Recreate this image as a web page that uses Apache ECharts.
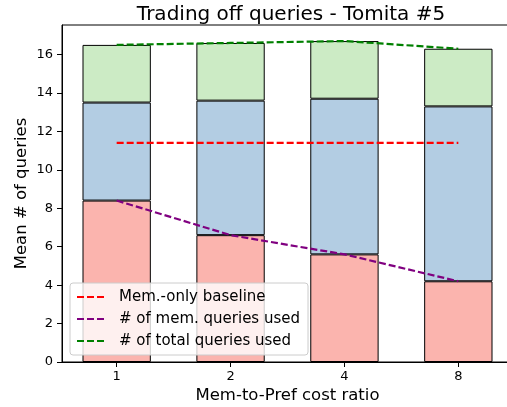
<!DOCTYPE html>
<html><head><meta charset="utf-8">
<script src="https://cdn.jsdelivr.net/npm/echarts@6/dist/echarts.min.js"></script>
<style>html,body{margin:0;padding:0;background:#fff}#c{width:507px;height:407px}</style>
</head><body><div id="c"></div>
<script>
const categories = ['1', '2', '4', '8'];
const memQueries = [8.4, 6.6, 5.6, 4.2];
const prefQueries = [5.1, 7.0, 8.1, 9.1];
const extraQueries = [3.0, 3.0, 3.0, 3.0];
const baseline = [11.4, 11.4, 11.4, 11.4];
const memUsed = [8.4, 6.6, 5.6, 4.2];
const totalUsed = [16.5, 16.6, 16.7, 16.3];
const yTicks = [0, 2, 4, 6, 8, 10, 12, 14, 16];

const pts = arr => arr.map((v, i) => [i, v]);
const font = 'DejaVu Sans';
const dash = [7, 3];
const barStyle = c => ({ color: c, borderColor: '#000', borderWidth: 1 });
const icon = 'path://M0,0h8v2h-8zM11,0h8v2h-8zM22,0h8v2h-8z';
const YMAX = 17.535;
const GL = 62, GW = 451, XMIN = -0.48, XMAX = 3.48;
const unit = GW / (XMAX - XMIN);

const chart = echarts.init(document.getElementById('c'));
chart.setOption({
  animation: false,
  textStyle: { fontFamily: font },
  title: {
    text: 'Trading off queries - Tomita #5',
    left: 286, top: 0, textAlign: 'center',
    textStyle: { fontFamily: font, fontSize: 20, fontWeight: 'normal', color: '#000' }
  },
  grid: [
    { left: GL, top: 25, width: GW, height: 337, show: true, borderColor: '#000', borderWidth: 1, backgroundColor: 'transparent', containLabel: false, outerBoundsMode: 'none' },
    { left: GL + (-0.5 - XMIN) * unit, top: 25, width: 4 * unit, height: 337, show: false, containLabel: false, outerBoundsMode: 'none' }
  ],
  xAxis: [{
    gridIndex: 0, type: 'value', min: XMIN, max: XMAX,
    name: 'Mem-to-Pref cost ratio', nameLocation: 'middle', nameGap: 25, nameMoveOverlap: false,
    nameTextStyle: { fontFamily: font, fontSize: 16.5, color: '#000' },
    axisLine: { show: true, onZero: false, lineStyle: { color: '#000', width: 1 } },
    axisTick: { show: true, length: 5, lineStyle: { color: '#000' }, customValues: [0, 1, 2, 3] },
    axisLabel: { customValues: [0, 1, 2, 3], formatter: v => categories[Math.round(v)], fontFamily: font, fontSize: 13, color: '#000', margin: 8 },
    splitLine: { show: false }
  }, {
    gridIndex: 1, type: 'category', data: categories, boundaryGap: true,
    axisLine: { show: false }, axisTick: { show: false }, axisLabel: { show: false }, splitLine: { show: false }
  }],
  yAxis: [{
    gridIndex: 0, type: 'value', min: 0, max: YMAX,
    name: 'Mean # of queries', nameLocation: 'middle', nameGap: 32, nameRotate: 90, nameMoveOverlap: false,
    nameTextStyle: { fontFamily: font, fontSize: 16.5, color: '#000' },
    axisLine: { show: true, onZero: false, lineStyle: { color: '#000', width: 1 } },
    axisTick: { show: true, length: 5, lineStyle: { color: '#000' }, customValues: yTicks },
    axisLabel: { customValues: yTicks, fontFamily: font, fontSize: 13, color: '#000', margin: 9 },
    splitLine: { show: false }
  }, {
    gridIndex: 1, type: 'value', min: 0, max: YMAX,
    axisLine: { show: false }, axisTick: { show: false }, axisLabel: { show: false }, splitLine: { show: false }
  }],
  legend: {
    data: ['Mem.-only baseline', '# of mem. queries used', '# of total queries used'],
    orient: 'vertical', left: 70, top: 283,
    padding: [6, 8, 6, 6], itemGap: 6, itemWidth: 30, itemHeight: 2.5,
    backgroundColor: 'rgba(255,255,255,0.8)', borderColor: '#ccc', borderWidth: 1, borderRadius: 3,
    textStyle: { fontFamily: font, fontSize: 15, color: '#000', lineHeight: 16, padding: [0, 0, 0, 7] }
  },
  series: [
    { name: 'mem', type: 'bar', stack: 's', xAxisIndex: 1, yAxisIndex: 1, barWidth: '60%', data: memQueries, itemStyle: barStyle('#fbb4ae'), z: 2 },
    { name: 'pref', type: 'bar', stack: 's', xAxisIndex: 1, yAxisIndex: 1, barWidth: '60%', data: prefQueries, itemStyle: barStyle('#b3cde3'), z: 2 },
    { name: 'extra', type: 'bar', stack: 's', xAxisIndex: 1, yAxisIndex: 1, barWidth: '60%', data: extraQueries, itemStyle: barStyle('#ccebc5'), z: 2 },
    { name: 'Mem.-only baseline', type: 'line', data: pts(baseline), symbol: 'none', color: '#ff0000', icon: icon,
      lineStyle: { color: '#ff0000', width: 2.2, type: dash }, z: 5 },
    { name: '# of mem. queries used', type: 'line', data: pts(memUsed), symbol: 'none', color: '#800080', icon: icon,
      lineStyle: { color: '#800080', width: 2.2, type: dash }, z: 5 },
    { name: '# of total queries used', type: 'line', data: pts(totalUsed), symbol: 'none', color: '#008000', icon: icon,
      lineStyle: { color: '#008000', width: 2.2, type: dash }, z: 5 }
  ]
});
</script></body></html>
